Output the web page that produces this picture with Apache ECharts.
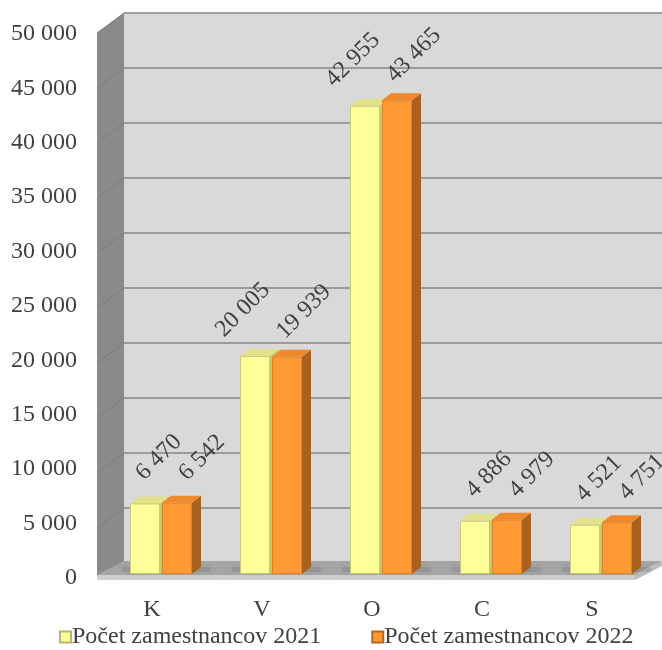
<!DOCTYPE html>
<html><head><meta charset="utf-8">
<script src="https://cdn.jsdelivr.net/npm/echarts@6/dist/echarts.min.js"></script>
<style>html,body{margin:0;padding:0;background:#fff}#c{width:662px;height:650px}</style>
</head><body><div id="c"></div>
<script>
const categories = ['K', 'V', 'O', 'C', 'S'];
const values2021 = [6470, 20005, 42955, 4886, 4521];
const values2022 = [6542, 19939, 43465, 4979, 4751];
const seriesNames = ['Počet zamestnancov 2021', 'Počet zamestnancov 2022'];
const yMin = 0, yMax = 50000, yStep = 5000;

const FONT = '"Liberation Serif", "Times New Roman", serif';
const TXT = '#404040';
const BDX = 9, BDY = -7;     // bar depth
function fmt(v) { return String(v).replace(/\B(?=(\d{3})+(?!\d))/g, ' '); }

const colors = [
  { front: '#FFFF99', top: '#E2E28C', side: '#C8C870', edge: '#C9C97A', label: [14, -46], longShift: -26 },
  { front: '#FF9933', top: '#EE8A2C', side: '#A8611E', edge: '#E08226', label: [25, -45], longShift: -8 }
];

function barRender(si) {
  return function (params, api) {
    const idx = api.value(0), v = api.value(1);
    const pt = api.coord([idx, v]), p0 = api.coord([idx, 0]);
    const c = pt[0];
    const x0 = si === 0 ? c - 31 : c + 1;
    const x1 = si === 0 ? c - 1 : c + 31;
    const top = pt[1], bot = p0[1];
    const col = colors[si];
    const txt = fmt(v);
    const lx = (x0 + x1) / 2 + col.label[0] + (txt.length > 5 ? col.longShift : 0), ly = top + col.label[1];
    return {
      type: 'group',
      children: [
        { type: 'rect', shape: { x: si === 0 ? x0 - 8 : x0, y: bot - 7, width: x1 - x0 + (si === 0 ? 8 : BDX + 10), height: 5, r: 2 },
          style: { fill: 'rgba(80,80,80,0.15)', shadowBlur: 9, shadowColor: 'rgba(40,40,40,0.55)' } },
        { type: 'polygon', shape: { points: [[x1, top], [x1 + BDX, top + BDY], [x1 + BDX, bot + BDY], [x1, bot]] }, style: { fill: col.side } },
        { type: 'polygon', shape: { points: [[x0, top], [x0 + BDX, top + BDY], [x1 + BDX, top + BDY], [x1, top]] }, style: { fill: col.top } },
        { type: 'rect', shape: { x: x0 + 0.5, y: top + 0.5, width: x1 - x0 - 1, height: bot - top - 1 }, style: { fill: col.front, stroke: col.edge, lineWidth: 1 } },
        { type: 'text', x: lx, y: ly, rotation: Math.PI / 4,
          style: { text: txt, fill: TXT, font: '24px ' + FONT, align: 'center', verticalAlign: 'middle' } }
      ]
    };
  };
}

function wallRender(params, api) {
  const cs = params.coordSys;
  const L = cs.x, T = cs.y, R = cs.x + cs.width, B = cs.y + cs.height;
  const children = [
    { type: 'polygon', shape: { points: [[L, T], [L - 27, T + 20], [L - 27, B + 17], [L, B - 2]] }, style: { fill: '#8A8A8A' } },
    { type: 'polygon', shape: { points: [[L, B - 2], [L - 27, B + 12], [R - 27, B + 12], [R, B - 2]] }, style: { fill: '#A5A5A5' } },
    { type: 'polygon', shape: { points: [[L - 27, B + 12], [R - 27, B + 12], [R - 27, B + 17], [L - 27, B + 17]] }, style: { fill: '#CFCFCF' } },
    { type: 'polygon', shape: { points: [[R - 27, B + 12], [R, B - 2], [R, B + 3], [R - 27, B + 17]] }, style: { fill: '#BDBDBD' } }
  ];
  for (let v = yMin; v <= yMax; v += yStep) {
    const y = api.coord([0, v])[1];
    if (v === yMin) continue;
    children.push({ type: 'line', shape: { x1: L, y1: y, x2: L - 27, y2: y + 20 }, style: { stroke: '#7C7C7C', lineWidth: 1 } });
  }
  return { type: 'group', children };
}

const chart = echarts.init(document.getElementById('c'), null, { renderer: 'canvas' });
chart.setOption({
  backgroundColor: '#fff',
  animation: false,
  grid: [
    { left: 124, top: 13, width: 550, height: 550, show: true, backgroundColor: '#D9D9D9', borderWidth: 0 },
    { left: 97, top: 34, width: 550, height: 544 },
    { left: 106, top: 29, width: 550, height: 545 }
  ],
  xAxis: [
    { type: 'category', gridIndex: 0, data: categories, show: false },
    { type: 'category', gridIndex: 1, data: categories,
      axisLine: { show: false }, axisTick: { show: false },
      axisLabel: { fontSize: 24, fontFamily: FONT, color: TXT, margin: 20 } },
    { type: 'category', gridIndex: 2, data: categories, show: false }
  ],
  yAxis: [
    { type: 'value', gridIndex: 0, min: yMin, max: yMax, interval: yStep,
      axisLine: { show: false }, axisTick: { show: false }, axisLabel: { show: false },
      splitLine: { show: true, lineStyle: { color: '#868686', width: 1.5 } } },
    { type: 'value', gridIndex: 1, min: yMin, max: yMax, interval: yStep,
      axisLine: { show: false }, axisTick: { show: false }, splitLine: { show: false },
      axisLabel: { fontSize: 24, fontFamily: FONT, color: TXT, margin: 20, formatter: fmt } },
    { type: 'value', gridIndex: 2, min: yMin, max: yMax, show: false, splitLine: { show: false } }
  ],
  legend: {
    top: 620, left: 54, itemGap: 50, itemWidth: 11, itemHeight: 11, icon: 'rect',
    textStyle: { fontSize: 24, fontFamily: FONT, color: TXT, padding: [0, 0, 0, -4] },
    data: seriesNames
  },
  series: [
    { type: 'custom', name: 'walls', xAxisIndex: 0, yAxisIndex: 0, data: [[0, 0]], renderItem: wallRender, silent: true, z: 1 },
    { type: 'custom', name: seriesNames[0], xAxisIndex: 2, yAxisIndex: 2, z: 2,
      itemStyle: { color: colors[0].front, borderColor: '#B5B56A', borderWidth: 1 },
      data: categories.map((c, i) => [i, values2021[i]]), renderItem: barRender(0) },
    { type: 'custom', name: seriesNames[1], xAxisIndex: 2, yAxisIndex: 2, z: 3,
      itemStyle: { color: colors[1].front, borderColor: '#B8661E', borderWidth: 1 },
      data: categories.map((c, i) => [i, values2022[i]]), renderItem: barRender(1) }
  ]
});
</script>
</body></html>
